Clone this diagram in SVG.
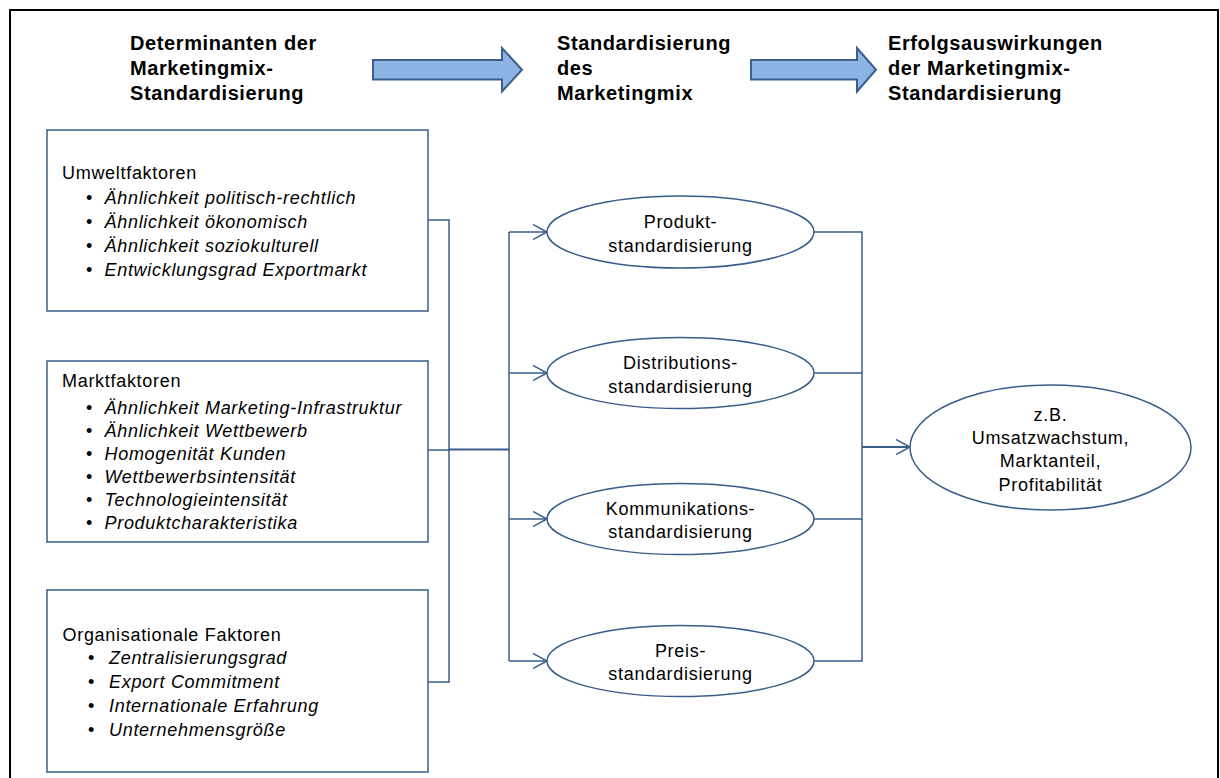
<svg xmlns="http://www.w3.org/2000/svg" width="1220" height="778" viewBox="0 0 1220 778">
<defs>
<style>
.t{font-family:"Liberation Sans",Arial,sans-serif;font-size:18px;letter-spacing:0.7px;fill:#000}
.i{font-style:italic}
.h{font-family:"Liberation Sans",Arial,sans-serif;font-size:20px;font-weight:bold;letter-spacing:0.6px;fill:#000}
.c{text-anchor:middle}
.box{fill:#fff;stroke:#385D8A;stroke-width:1.5}
.ell{fill:#fff;stroke:#385D8A;stroke-width:1.5}
.ln{fill:none;stroke:#385D8A;stroke-width:1.5}
.lnb{fill:none;stroke:#385D8A;stroke-width:2.2}
.big{fill:#8EB4E3;stroke:#3A5F8F;stroke-width:2}
</style>
<marker id="ah" markerWidth="16" markerHeight="16" refX="14" refY="8" orient="auto" markerUnits="userSpaceOnUse">
<path d="M0,0.5 L14,8 L0,15.5" fill="none" stroke="#385D8A" stroke-width="1.5"/>
</marker>
</defs>
<rect x="0" y="0" width="1220" height="778" fill="#fff"/>
<rect x="10" y="10" width="1208" height="800" fill="none" stroke="#000" stroke-width="2"/>

<g id="titles">
<text class="h" x="130" y="50">Determinanten der</text>
<text class="h" x="130" y="75">Marketingmix-</text>
<text class="h" x="130" y="100">Standardisierung</text>
<text class="h" x="557" y="50">Standardisierung</text>
<text class="h" x="557" y="75">des</text>
<text class="h" x="557" y="100">Marketingmix</text>
<text class="h" x="888" y="50">Erfolgsauswirkungen</text>
<text class="h" x="888" y="75">der Marketingmix-</text>
<text class="h" x="888" y="100">Standardisierung</text>
</g>
<g id="bigarrows">
<path class="big" d="M373,60 H502 V48 L522,69.75 L502,91.5 V79.5 H373 Z"/>
<path class="big" d="M751,60 H857 V48 L876,69.75 L857,91.5 V79.5 H751 Z"/>
</g>

<g id="connectors">
<path class="ln" d="M428,220 H449 V682 H428"/>
<path class="ln" d="M428,450 H449"/>
<path class="lnb" d="M449,449.5 H509"/>
<path class="ln" d="M509,232 V661"/>
<path class="ln" d="M509,232 H547" marker-end="url(#ah)"/>
<path class="ln" d="M509,373 H547" marker-end="url(#ah)"/>
<path class="ln" d="M509,519 H547" marker-end="url(#ah)"/>
<path class="ln" d="M509,661 H547" marker-end="url(#ah)"/>
<path class="ln" d="M814,232 H862 V661 H814"/>
<path class="ln" d="M814,373 H862"/>
<path class="ln" d="M814,519 H862"/>
<path class="lnb" d="M862,447 H910" marker-end="url(#ah)"/>
</g>

<g id="umwelt">
<rect class="box" x="47" y="130" width="381" height="181"/>
<text class="t" x="62" y="179">Umweltfaktoren</text>
<text class="t" x="86" y="204">•</text><text class="t i" x="104.5" y="204">Ähnlichkeit politisch-rechtlich</text>
<text class="t" x="86" y="228">•</text><text class="t i" x="104.5" y="228">Ähnlichkeit ökonomisch</text>
<text class="t" x="86" y="252">•</text><text class="t i" x="104.5" y="252">Ähnlichkeit soziokulturell</text>
<text class="t" x="86" y="276">•</text><text class="t i" x="104.5" y="276">Entwicklungsgrad Exportmarkt</text>
</g>
<g id="markt">
<rect class="box" x="47" y="361" width="381" height="181"/>
<text class="t" x="62" y="387">Marktfaktoren</text>
<text class="t" x="86" y="414">•</text><text class="t i" x="104.5" y="414">Ähnlichkeit Marketing-Infrastruktur</text>
<text class="t" x="86" y="437">•</text><text class="t i" x="104.5" y="437">Ähnlichkeit Wettbewerb</text>
<text class="t" x="86" y="460">•</text><text class="t i" x="104.5" y="460">Homogenität Kunden</text>
<text class="t" x="86" y="483">•</text><text class="t i" x="104.5" y="483">Wettbewerbsintensität</text>
<text class="t" x="86" y="506">•</text><text class="t i" x="104.5" y="506">Technologieintensität</text>
<text class="t" x="86" y="529">•</text><text class="t i" x="104.5" y="529">Produktcharakteristika</text>
</g>
<g id="organisation">
<rect class="box" x="47" y="590" width="381" height="182"/>
<text class="t" x="62.5" y="641">Organisationale Faktoren</text>
<text class="t" x="88" y="664">•</text><text class="t i" x="109" y="664">Zentralisierungsgrad</text>
<text class="t" x="88" y="688">•</text><text class="t i" x="109" y="688">Export Commitment</text>
<text class="t" x="88" y="712">•</text><text class="t i" x="109" y="712">Internationale Erfahrung</text>
<text class="t" x="88" y="736">•</text><text class="t i" x="109" y="736">Unternehmensgröße</text>
</g>

<g id="produkt">
<ellipse class="ell" cx="680.5" cy="232" rx="133.5" ry="36"/>
<text class="t c" x="680.5" y="228">Produkt-</text>
<text class="t c" x="680.5" y="252">standardisierung</text>
</g>
<g id="distribution">
<ellipse class="ell" cx="680.5" cy="373" rx="133.5" ry="35.5"/>
<text class="t c" x="680.5" y="369">Distributions-</text>
<text class="t c" x="680.5" y="393">standardisierung</text>
</g>
<g id="kommunikation">
<ellipse class="ell" cx="680.5" cy="519" rx="133.5" ry="35.5"/>
<text class="t c" x="680.5" y="515">Kommunikations-</text>
<text class="t c" x="680.5" y="538">standardisierung</text>
</g>
<g id="preis">
<ellipse class="ell" cx="680.5" cy="661" rx="133.5" ry="35.5"/>
<text class="t c" x="680.5" y="657">Preis-</text>
<text class="t c" x="680.5" y="680">standardisierung</text>
</g>
<g id="erfolg">
<ellipse class="ell" cx="1050.5" cy="447.5" rx="140.5" ry="62.5"/>
<text class="t c" x="1050.5" y="421">z.B.</text>
<text class="t c" x="1050.5" y="444">Umsatzwachstum,</text>
<text class="t c" x="1050.5" y="467">Marktanteil,</text>
<text class="t c" x="1050.5" y="491">Profitabilität</text>
</g>
</svg>
